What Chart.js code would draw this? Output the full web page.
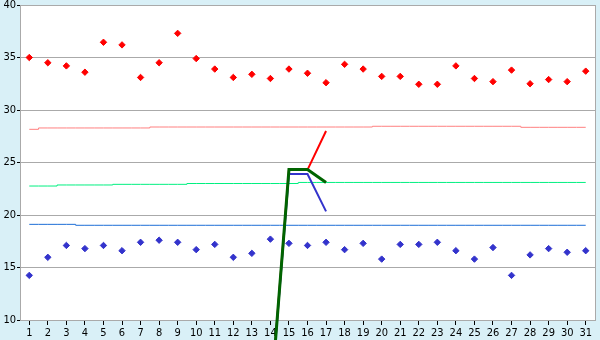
<!DOCTYPE html>
<html lang="en">
<head>
    <meta charset="UTF-8">
    <title>Chart</title>
    <script src="https://cdn.jsdelivr.net/npm/chart.js"></script>
    <style>
        html, body { margin: 0; padding: 0; background: #d9f0f7; }
        #wrap { width: 600px; height: 340px; }
    </style>
</head>
<body>
    <div id="wrap"><canvas id="chart" width="600" height="340"></canvas></div>

    <script>
        // categories (days)
        const days = Array.from({ length: 31 }, (_, i) => String(i + 1));
        const yTicks = [10, 15, 20, 25, 30, 35, 40];

        // scatter points
        const highPoints = [35.0, 34.5, 34.2, 33.6, 36.45, 36.2, 33.1, 34.5, 37.3, 34.9,
            33.9, 33.1, 33.4, 33.0, 33.9, 33.5, 32.6, 34.35, 33.9, 33.2,
            33.2, 32.45, 32.45, 34.2, 33.0, 32.7, 33.8, 32.5, 32.9, 32.7, 33.7];
        const lowPoints = [14.25, 15.97, 17.1, 16.8, 17.1, 16.6, 17.4, 17.6, 17.4, 16.7,
            17.2, 15.97, 16.35, 17.7, 17.3, 17.1, 17.4, 16.7, 17.3, 15.8,
            17.2, 17.2, 17.4, 16.6, 15.8, 16.9, 14.25, 16.2, 16.8, 16.45, 16.6];

        // stepped average lines
        const highAvg = [28.16, 28.29, 28.29, 28.29, 28.29, 28.29, 28.29, 28.38, 28.38, 28.38,
            28.38, 28.38, 28.38, 28.38, 28.38, 28.38, 28.38, 28.38, 28.38, 28.45,
            28.45, 28.45, 28.45, 28.45, 28.45, 28.45, 28.45, 28.35, 28.35, 28.35, 28.35];
        const midAvg = [22.76, 22.76, 22.86, 22.86, 22.86, 22.92, 22.92, 22.92, 22.92, 23.0,
            23.0, 23.0, 23.0, 23.0, 23.0, 23.1, 23.1, 23.1, 23.1, 23.1,
            23.1, 23.1, 23.1, 23.1, 23.1, 23.1, 23.1, 23.1, 23.1, 23.1, 23.1];
        const lowAvg = [19.11, 19.11, 19.11, 19.02, 19.02, 19.02, 19.02, 19.02, 19.02, 19.02,
            19.02, 19.02, 19.02, 19.02, 19.02, 19.02, 19.02, 19.02, 19.02, 19.02,
            19.02, 19.02, 19.02, 19.02, 19.02, 19.02, 19.02, 19.02, 19.02, 19.02, 19.02];

        // short lines around days 14-17
        const pad = n => Array(n).fill(null);
        const redLine = [...pad(13), 2.0, 24.3, 24.3, 28.0, ...pad(14)];
        const blueLine = [...pad(13), 2.0, 23.9, 23.9, 20.35, ...pad(14)];
        const greenLine = [...pad(13), 1.9, 24.33, 24.33, 23.1, ...pad(14)];

        const bgPlugin = {
            id: 'bg',
            beforeDraw(chart) {
                const { ctx, chartArea: a } = chart;
                ctx.save();
                ctx.fillStyle = '#d9f0f7';
                ctx.fillRect(0, 0, chart.width, chart.height);
                ctx.fillStyle = '#ffffff';
                ctx.fillRect(a.left, a.top, a.right - a.left, a.bottom - a.top);
                ctx.restore();
            },
            afterDraw(chart) {
                const { ctx, chartArea: a } = chart;
                ctx.save();
                ctx.strokeStyle = '#aaaaaa';
                ctx.lineWidth = 1;
                ctx.beginPath();
                ctx.moveTo(a.right + 0.5, a.top);
                ctx.lineTo(a.right + 0.5, a.bottom);
                ctx.stroke();
                ctx.restore();
            }
        };

        const stepDs = (data, color) => ({
            type: 'line', data, borderColor: color, borderWidth: 1,
            pointRadius: 0, stepped: 'middle', fill: false, order: 5
        });

        const tickFont = { family: "'DejaVu Sans Condensed', 'DejaVu Sans'", size: 11 };

        new Chart(document.getElementById('chart').getContext('2d'), {
            type: 'line',
            data: {
                labels: days,
                datasets: [
                    stepDs(highAvg, '#ff8080'),
                    stepDs(midAvg, '#00f080'),
                    stepDs(lowAvg, '#1e6ed6'),
                    {
                        data: highPoints, showLine: false, pointStyle: 'rectRot', order: 4,
                        pointRadius: 3.2, backgroundColor: '#ff0000', borderColor: '#ff0000', borderWidth: 1
                    },
                    {
                        data: lowPoints, showLine: false, pointStyle: 'rectRot', order: 4,
                        pointRadius: 3.2, backgroundColor: '#3333cc', borderColor: '#3333cc', borderWidth: 1
                    },
                    { data: redLine, borderColor: '#ff0000', borderWidth: 2, pointRadius: 0, clip: false, order: 2 },
                    { data: blueLine, borderColor: '#3333cc', borderWidth: 2, pointRadius: 0, clip: false, order: 1 },
                    { data: greenLine, borderColor: '#006400', borderWidth: 3, pointRadius: 0, clip: false, order: 0 }
                ]
            },
            options: {
                responsive: false,
                animation: false,
                layout: { padding: { top: 5, right: 5, left: 0, bottom: 0 } },
                plugins: { legend: { display: false }, tooltip: { enabled: false } },
                scales: {
                    x: {
                        offset: true,
                        grid: { drawOnChartArea: false, tickLength: 5, tickColor: '#000', color: '#aaaaaa' },
                        border: { color: '#aaaaaa' },
                        ticks: { color: '#000', font: tickFont, padding: 2, maxRotation: 0, autoSkip: false },
                        afterFit(s) { s.height = 20; s.paddingLeft = 0; s.paddingRight = 0; }
                    },
                    y: {
                        min: 10, max: 40,
                        afterBuildTicks(s) { s.ticks = yTicks.map(v => ({ value: v })); },
                        grid: { color: '#aaaaaa', tickLength: 3, tickColor: '#000' },
                        border: { color: '#aaaaaa' },
                        ticks: { color: '#000', font: tickFont, padding: 1 },
                        afterFit(s) { s.width = 20; s.paddingTop = 0; s.paddingBottom = 0; }
                    }
                }
            },
            plugins: [bgPlugin]
        });
    </script>
</body>
</html>
